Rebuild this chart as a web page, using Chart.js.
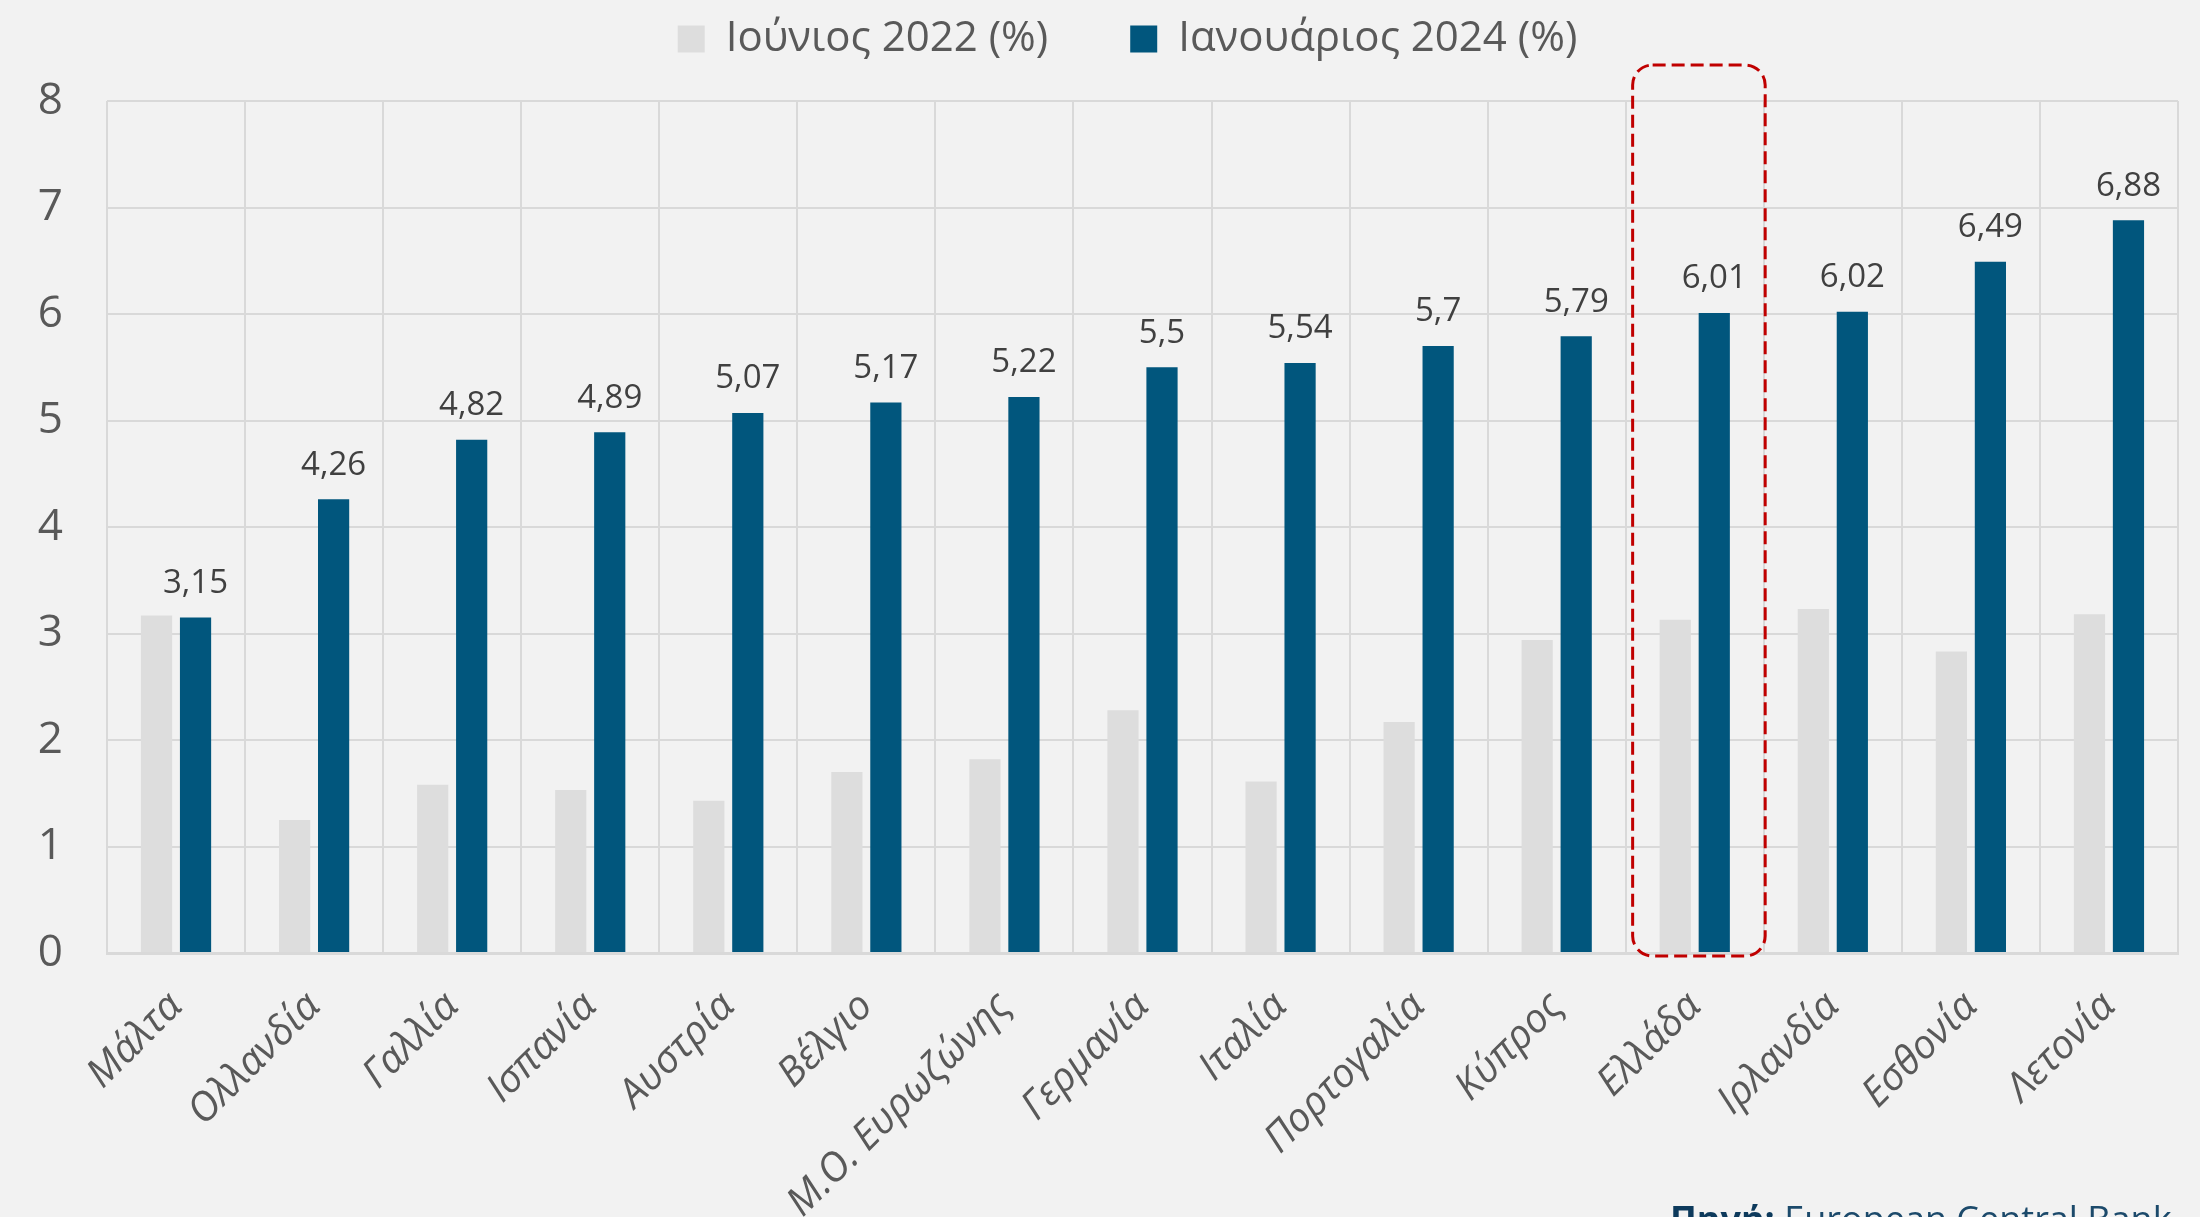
<!DOCTYPE html>
<html>
<head>
<meta charset="utf-8">
<script src="https://cdn.jsdelivr.net/npm/chart.js@4.4.1/dist/chart.umd.min.js"></script>
<style>
  html, body { margin: 0; padding: 0; background: #f2f2f2; overflow: hidden; }
  #wrap { width: 2200px; height: 1217px; }
</style>
</head>
<body>
<div id="wrap"><canvas id="rateChart" width="2200" height="1217"></canvas></div>
<script>
// data
var categories = ['Μάλτα', 'Ολλανδία', 'Γαλλία', 'Ισπανία', 'Αυστρία', 'Βέλγιο', 'Μ.Ο. Ευρωζώνης',
    'Γερμανία', 'Ιταλία', 'Πορτογαλία', 'Κύπρος', 'Ελλάδα', 'Ιρλανδία', 'Εσθονία', 'Λετονία'];
var june2022 = [3.17, 1.25, 1.58, 1.53, 1.43, 1.70, 1.82, 2.28, 1.61, 2.17, 2.94, 3.13, 3.23, 2.83, 3.18];
var jan2024 = [3.15, 4.26, 4.82, 4.89, 5.07, 5.17, 5.22, 5.5, 5.54, 5.7, 5.79, 6.01, 6.02, 6.49, 6.88];
var seriesNames = ['Ιούνιος 2022 (%)', 'Ιανουάριος 2024 (%)'];
var yMin = 0, yMax = 8, yStep = 1;
var highlighted = 'Ελλάδα';
var sourceLabel = 'Πηγή:';
var sourceName = ' European Central Bank';

var FONT = '"Open Sans", "Noto Sans", sans-serif';
var GREY = '#dddddd';
var BLUE = '#01567d';
var TEXT = '#595959';
var GRID = '#d9d9d9';

//- value labels over the 2024 bars -
var valueLabels = {
    id: 'valueLabels',
    afterDatasetsDraw: function (chart) {
        var ctx = chart.ctx;
        var meta = chart.getDatasetMeta(1);
        ctx.save();
        ctx.font = '33px ' + FONT;
        ctx.fillStyle = '#404040';
        ctx.textAlign = 'center';
        ctx.textBaseline = 'middle';
        meta.data.forEach(function (bar, i) {
            ctx.fillText(String(jan2024[i]).replace('.', ','), bar.x, bar.y - 34);
        });
        ctx.restore();
    }
};

//- dashed frame round Greece -
var highlightBox = {
    id: 'highlightBox',
    afterDatasetsDraw: function (chart) {
        var ctx = chart.ctx;
        var xs = chart.scales.x, ys = chart.scales.y;
        var i = categories.indexOf(highlighted);
        var w = xs.getPixelForValue(1) - xs.getPixelForValue(0);
        var cx = xs.getPixelForValue(i);
        var left = cx - w * 0.45, right = cx + w * 0.51;
        var top = ys.getPixelForValue(yMax) - 36, bottom = ys.getPixelForValue(yMin) + 3;
        ctx.save();
        ctx.strokeStyle = '#c00000';
        ctx.lineWidth = 3;
        ctx.setLineDash([13, 6]);
        ctx.beginPath();
        ctx.roundRect(left, top, right - left, bottom - top, 20);
        ctx.stroke();
        ctx.restore();
    }
};

//- source note, bottom right (cut by the edge like the original) -
var sourceNote = {
    id: 'sourceNote',
    afterDraw: function (chart) {
        var ctx = chart.ctx;
        var x = 1670, y = 1232;
        ctx.save();
        ctx.textAlign = 'left';
        ctx.textBaseline = 'alphabetic';
        ctx.font = 'bold 36px ' + FONT;
        ctx.fillStyle = '#0d3a5c';
        ctx.fillText(sourceLabel, x, y);
        x += ctx.measureText(sourceLabel).width;
        ctx.font = '36px ' + FONT;
        ctx.fillStyle = '#1c4a6b';
        ctx.fillText(sourceName, x, y);
        ctx.restore();
    }
};

//- legend height / centering over the plot -
var legendSpacing = {
    id: 'legendSpacing',
    beforeInit: function (chart) {
        var fit = chart.legend.fit;
        chart.legend.fit = function () {
            fit.call(this);
            this.height = 165;
        };
    },
    afterLayout: function (chart) {
        var shift = (chart.chartArea.left + chart.chartArea.right) / 2 - chart.width / 2;
        chart.legend.left += shift - 4;
        chart.legend.right += shift - 4;
    }
};

var rateChart = new Chart(document.getElementById('rateChart'), {
    type: 'bar',
    data: {
        labels: categories,
        datasets: [
            {
                label: seriesNames[0],
                data: june2022,
                backgroundColor: GREY,
                categoryPercentage: 0.565,
                barPercentage: 0.8
            },
            {
                label: seriesNames[1],
                data: jan2024,
                backgroundColor: BLUE,
                categoryPercentage: 0.565,
                barPercentage: 0.8
            }
        ]
    },
    options: {
        responsive: false,
        animation: false,
        layout: { padding: { top: -64, right: 22, left: 0, bottom: 0 } },
        plugins: {
            legend: {
                position: 'top',
                labels: {
                    color: TEXT,
                    font: { family: FONT, size: 42 },
                    boxWidth: 27,
                    boxHeight: 27,
                    padding: 82
                }
            },
            tooltip: { enabled: false }
        },
        scales: {
            x: {
                grid: { color: GRID, lineWidth: 2, drawTicks: false, offset: true },
                border: { color: GRID, width: 3 },
                ticks: {
                    color: TEXT,
                    font: { family: FONT, size: 40, style: 'italic' },
                    minRotation: 45,
                    maxRotation: 45,
                    autoSkip: false,
                    padding: 30
                },
                afterFit: function (scale) { scale.height = 264; }
            },
            y: {
                min: yMin,
                max: yMax,
                grid: { color: GRID, lineWidth: 2, drawTicks: false },
                border: { display: false },
                ticks: {
                    stepSize: yStep,
                    color: TEXT,
                    font: { family: FONT, size: 44 },
                    padding: 44
                },
                afterFit: function (scale) { scale.width = 107; }
            }
        }
    },
    plugins: [legendSpacing, valueLabels, highlightBox, sourceNote]
});
</script>
</body>
</html>
